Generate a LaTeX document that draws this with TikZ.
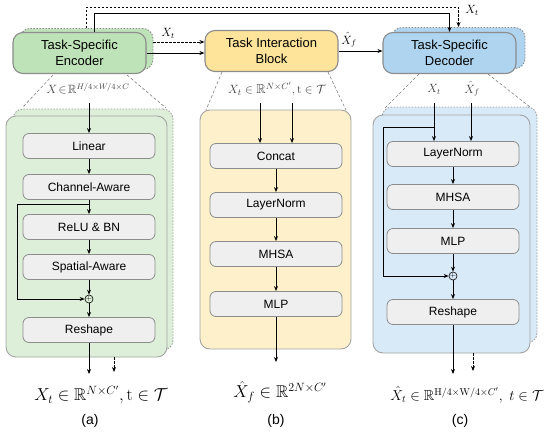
\documentclass[tikz,border=0pt]{standalone}
\usepackage[no-math]{fontspec}
\setmainfont{Liberation Sans}
\usepackage{amsmath,amssymb}
\usetikzlibrary{arrows.meta}
\definecolor{encG}{HTML}{BFE3B8}
\definecolor{panG}{HTML}{DDEFD8}
\definecolor{tibY}{HTML}{FDE49A}
\definecolor{panY}{HTML}{FDF0CB}
\definecolor{decB}{HTML}{AED4EF}
\definecolor{panB}{HTML}{D8E9F7}
\definecolor{boxG}{HTML}{EFEFEF}
\definecolor{bordG}{HTML}{8C8C8C}
\tikzset{
  blk/.style={draw=bordG,line width=1.1pt,rounded corners=10pt,minimum width=133pt,minimum height=41pt,align=center,font=\fontsize{13}{15.5}\selectfont,inner sep=0pt},
  shadowblk/.style={draw=bordG,dash pattern=on 1.5pt off 1.5pt,line width=0.9pt,rounded corners=10pt,minimum width=133pt,minimum height=41pt,inner sep=0pt},
  panel/.style={draw=bordG!80,line width=0.9pt,rounded corners=10pt,inner sep=0pt},
  panshadow/.style={draw=bordG!80,dash pattern=on 1.5pt off 1.5pt,line width=0.9pt,rounded corners=10pt,inner sep=0pt},
  inbox/.style={draw=bordG,fill=boxG,line width=0.8pt,rounded corners=6pt,minimum width=132pt,minimum height=25pt,inner sep=0pt,font=\fontsize{12}{14}\selectfont},
  arr/.style={-{Stealth[length=5pt,width=4pt]},line width=0.8pt},
  darr/.style={-{Stealth[length=5pt,width=4pt]},line width=0.8pt,dash pattern=on 2.5pt off 1.5pt},
  trap/.style={draw=gray,line width=0.6pt,dash pattern=on 3pt off 2pt},
  plusc/.style={circle,draw,line width=0.6pt,inner sep=0pt,minimum size=8pt,font=\fontsize{7}{7}\selectfont},
  toplab/.style={font=\fontsize{12}{14}\selectfont,text=black!75,inner sep=0pt},
  botlab/.style={font=\fontsize{17}{20}\selectfont,inner sep=0pt},
  captxt/.style={font=\fontsize{14}{16}\selectfont,inner sep=0pt}
}
\begin{document}
\begin{tikzpicture}[x=1pt,y=-1pt]
\useasboundingbox (0,0) rectangle (550,432);
% ---------- panels ----------
\node[panshadow,fill=panG,minimum width=160pt,minimum height=241pt] (pashadow) at (93,229.5) {};
\node[panel,fill=panG,minimum width=161pt,minimum height=241pt] (pa) at (86.5,236.5) {};
\node[panel,fill=panY,minimum width=151pt,minimum height=239pt] (pb) at (275.5,229.5) {};
\node[panshadow,fill=panB,minimum width=155pt,minimum height=236pt] (pcshadow) at (459.5,225) {};
\node[panel,fill=panB,minimum width=157pt,minimum height=238pt] (pc) at (451.5,234) {};
% ---------- top blocks ----------
\node[shadowblk,fill=encG] (encshadow) at (86.5,49) {};
\node[blk,fill=encG] (enc) at (79.5,53) {Task-Specific\\Encoder};
\node[blk,fill=tibY] (tib) at (271.5,51) {Task Interaction\\Block};
\node[shadowblk,fill=decB] (decshadow) at (458.5,48) {};
\node[blk,fill=decB] (dec) at (449.5,53) {Task-Specific\\Decoder};
% top connectors
\coordinate (y42) at (0,42);
\draw[darr] (encshadow.east |- y42) -- (tib.west |- y42);
\draw[arr] (enc.east) -- (enc.east -| tib.west);
\node[font=\fontsize{12}{14}\selectfont,inner sep=0pt] (lxt) at (168,33) {$X_t$};
\draw[arr] (tib.east) -- (tib.east -| dec.west);
\node[font=\fontsize{12}{14}\selectfont,inner sep=0pt] (lxf) at (349,40) {$\hat{X}_f$};
\draw[arr] ([xshift=14.5pt]enc.north) |- ++(0,-19) -| (dec.north);
\draw[darr] (encshadow.north) -- ++(0,-21) -| (decshadow.north);
\node[font=\fontsize{12}{14}\selectfont,inner sep=0pt] (lxt2) at (472,10) {$X_t$};
% trapezoids
\coordinate (ta1) at (53,75); \coordinate (ta2) at (22,108);
\coordinate (ta3) at (127,75); \coordinate (ta4) at (166,108);
\draw[trap] (ta1) -- (ta2); \draw[trap] (ta3) -- (ta4);
\coordinate (tb1) at (222,72); \coordinate (tb2) at (206,110);
\coordinate (tb3) at (328,72); \coordinate (tb4) at (346,110);
\draw[trap] (tb1) -- (tb2); \draw[trap] (tb3) -- (tb4);
\coordinate (tc1) at (419,74); \coordinate (tc2) at (385,108);
\coordinate (tc3) at (488,74); \coordinate (tc4) at (530,107);
\draw[trap] (tc1) -- (tc2); \draw[trap] (tc3) -- (tc4);
% ---------- panel (a) ----------
\node[toplab] (la) at (88,89) {$X\!\in\!\mathbb{R}^{H/4\times W/4\times C}$};
\node[inbox] (lin) at (89,146) {Linear};
\node[inbox] (cha) at (89,187) {Channel-Aware};
\node[inbox] (relu) at (89,227) {ReLU \& BN};
\node[inbox] (spa) at (89,267) {Spatial-Aware};
\node[plusc] (plusa) at (89,299) {$+$};
\node[inbox] (resa) at (89,330) {Reshape};
\coordinate (ina) at (89,103);
\draw[arr] (ina) -- (lin.north);
\draw[arr] (lin) -- (cha);
\draw[arr] (cha) -- (relu);
\draw[arr] (relu) -- (spa);
\draw[arr] (spa) -- (plusa);
\draw[arr] (plusa) -- (resa);
\coordinate (skipa) at (89,204);
\draw[arr] (skipa) -- (17,204) |- (plusa.west);
\coordinate (outa) at (89,374);
\draw[arr] (resa.south) -- (outa);
\coordinate (da1) at (114,357); \coordinate (da2) at (114,372);
\draw[darr] (da1) -- (da2);
\node[botlab] (ba) at (101,395) {$X_t \in \mathbb{R}^{N\times C'}, \mathrm{t}\in\mathcal{T}$};
\node[captxt] (capa) at (90,421) {(a)};
% ---------- panel (b) ----------
\node[toplab,font=\fontsize{13}{15}\selectfont] (lb) at (277,89) {$X_t \in \mathbb{R}^{N\times C'}, \mathrm{t}\in\mathcal{T}$};
\node[inbox] (cat) at (276,156) {Concat};
\node[inbox] (lnb) at (276,205) {LayerNorm};
\node[inbox] (mhb) at (276,254) {MHSA};
\node[inbox] (mlb) at (276,304) {MLP};
\coordinate (inb1) at (260,103); \coordinate (inb2) at (292,103);
\draw[arr] (inb1) -- (inb1 |- cat.north);
\draw[arr] (inb2) -- (inb2 |- cat.north);
\draw[arr] (cat) -- (lnb);
\draw[arr] (lnb) -- (mhb);
\draw[arr] (mhb) -- (mlb);
\coordinate (outb) at (276,362);
\draw[arr] (mlb.south) -- (outb);
\node[botlab] (bb) at (280,392) {$\hat{X}_f \in \mathbb{R}^{2N\times C'}$};
\node[captxt] (capb) at (276,421) {(b)};
% ---------- panel (c) ----------
\node[toplab] (lc1) at (434,89) {$X_t$};
\node[toplab] (lc2) at (472,89) {$\hat{X}_f$};
\node[inbox] (lnc) at (453,154) {LayerNorm};
\node[inbox] (mhc) at (453,197) {MHSA};
\node[inbox] (mlc) at (453,241) {MLP};
\node[plusc] (plusc) at (453,276) {$+$};
\node[inbox] (resc) at (453,312) {Reshape};
\coordinate (inc1) at (434,103); \coordinate (inc2) at (471,103);
\draw[arr] (inc1) -- (inc1 |- lnc.north);
\draw[arr] (inc2) -- (inc2 |- lnc.north);
\coordinate (skipc) at (434,127);
\draw[arr] (skipc) -- (383,127) |- (plusc.west);
\draw[arr] (lnc) -- (mhc);
\draw[arr] (mhc) -- (mlc);
\draw[arr] (mlc) -- (plusc);
\draw[arr] (plusc) -- (resc);
\coordinate (outc) at (453,374);
\draw[arr] (resc.south) -- (outc);
\coordinate (dc1) at (473,353); \coordinate (dc2) at (473,371);
\draw[darr] (dc1) -- (dc2);
\node[botlab,font=\fontsize{14.5}{17}\selectfont] (bc) at (467,395) {$\hat{X}_t \in \mathbb{R}^{\mathrm{H}/4\times \mathrm{W}/4\times C'},\ t\in\mathcal{T}$};
\node[captxt] (capc) at (460,421) {(c)};
\end{tikzpicture}
\end{document}
